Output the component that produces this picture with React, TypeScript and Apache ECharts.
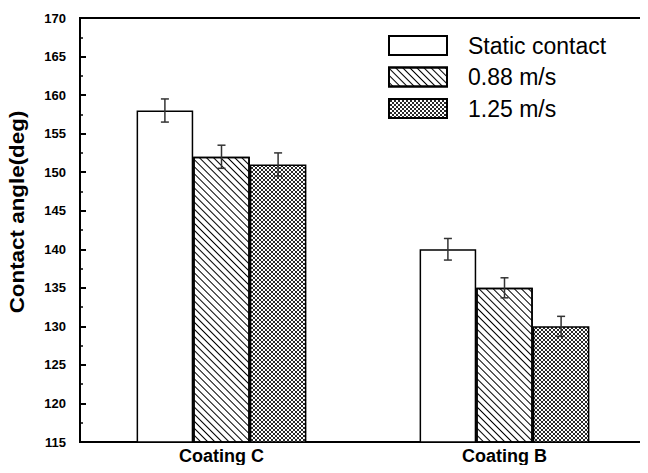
import React, { useEffect, useRef } from "react";
import * as echarts from "echarts";

const categories = ["Coating C", "Coating B"];
const seriesNames = ["Static contact", "0.88 m/s", "1.25 m/s"];
const staticValues = [158, 140];
const v088Values = [152, 135];
const v125Values = [151, 130];
const staticErr = [1.5, 1.4];
const v088Err = [1.5, 1.3];
const v125Err = [1.5, 1.3];
const yTicks = { min: 115, max: 170, interval: 5 };
const yName = "Contact angle(deg)";

const CAT_GAP = 0.4;

function crossHatch(): any {
  const p = 4;
  const cv = document.createElement("canvas");
  cv.width = p;
  cv.height = p;
  const ctx = cv.getContext("2d")!;
  ctx.fillStyle = "#fff";
  ctx.fillRect(0, 0, p, p);
  ctx.strokeStyle = "#111";
  ctx.lineWidth = 0.9;
  for (let k = -1; k <= 1; k++) {
    ctx.beginPath();
    ctx.moveTo(k * p, 0);
    ctx.lineTo(k * p + p, p);
    ctx.stroke();
    ctx.beginPath();
    ctx.moveTo(k * p + p, 0);
    ctx.lineTo(k * p, p);
    ctx.stroke();
  }
  return { image: cv, repeat: "repeat", imageWidth: p, imageHeight: p };
}

export default function App() {
  const ref = useRef<HTMLDivElement>(null);
  useEffect(() => {
    if (!ref.current) return;
    const chart = echarts.init(ref.current, null, { renderer: "svg" });
    const values = [staticValues, v088Values, v125Values];
    const errs = [staticErr, v088Err, v125Err];
    const errData: number[][] = [];
    values.forEach((arr, s) =>
      arr.forEach((v, c) => errData.push([c, v, errs[s][c], s]))
    );
    const styles: any[] = [
      { color: "#fff" },
      {
        color: "#fff",
        decal: {
          symbol: "rect",
          symbolSize: 1,
          dashArrayX: [1, 0],
          dashArrayY: [1, 3.4],
          rotation: Math.PI / 4,
          color: "#000",
        },
      },
      { color: crossHatch() },
    ];
    const barSeries = values.map((arr, s) => ({
      name: seriesNames[s],
      type: "bar",
      data: arr,
      barGap: "0%",
      barCategoryGap: CAT_GAP * 100 + "%",
      itemStyle: {
        borderColor: "#000",
        borderWidth: 1.5,
        ...styles[s],
      },
      emphasis: { disabled: true },
    }));
    chart.setOption({
      animation: false,
      grid: {
        left: 80,
        right: 2,
        top: 18,
        bottom: 31,
        show: true,
        borderColor: "#000",
        borderWidth: 2,
        backgroundColor: "transparent",
      },
      graphic: [
        {
          type: "text",
          x: 17,
          y: 212,
          rotation: Math.PI / 2,
          scaleX: 1.12,
          style: {
            text: yName,
            font: "bold 20px Arial, 'Liberation Sans', sans-serif",
            fill: "#000",
            align: "center",
            verticalAlign: "middle",
          },
        },
      ],
      legend: {
        orient: "vertical",
        left: 383,
        top: 29,
        itemWidth: 58,
        itemHeight: 19,
        itemGap: 8.5,
        icon: "rect",
        data: seriesNames,
        textStyle: {
          fontFamily: "Arial, 'Liberation Sans', sans-serif",
          fontSize: 23,
          color: "#000",
          padding: [0, 0, 0, 16],
          lineHeight: 22,
        },
      },
      xAxis: {
        type: "category",
        data: categories,
        axisLine: { lineStyle: { color: "#000", width: 2 } },
        axisTick: { show: false },
        axisLabel: {
          color: "#000",
          fontWeight: "bold",
          fontSize: 18,
          fontFamily: "Arial, 'Liberation Sans', sans-serif",
          margin: 5,
        },
      },
      yAxis: {
        type: "value",
        min: yTicks.min,
        max: yTicks.max,
        interval: yTicks.interval,
        axisLine: { show: true, lineStyle: { color: "#000", width: 2 } },
        axisTick: { show: true, inside: true, length: 6, lineStyle: { color: "#000", width: 2 } },
        minorTick: { show: true, splitNumber: 2, length: 3, lineStyle: { color: "#000", width: 1.5 } },
        splitLine: { show: false },
        axisLabel: {
          color: "#000",
          fontWeight: "bold",
          fontSize: 13,
          fontFamily: "Arial, 'Liberation Sans', sans-serif",
          margin: 14,
        },
      },
      series: [
        ...barSeries,
        {
          type: "custom",
          z: 10,
          silent: true,
          data: errData,
          encode: { x: 0, y: 1 },
          renderItem: (params: any, api: any) => {
            const c = api.value(0);
            const v = api.value(1);
            const e = api.value(2);
            const s = api.value(3);
            const band = api.size([1, 0])[0];
            const bw = (band * (1 - CAT_GAP)) / 3;
            const center = api.coord([c, v]);
            const x = center[0] + (s - 1) * bw;
            const yTop = api.coord([c, v + e])[1];
            const yBot = api.coord([c, v - e])[1];
            const cap = 4;
            const style = { stroke: "#333", lineWidth: 1.5, fill: "none" };
            return {
              type: "group",
              children: [
                { type: "line", shape: { x1: x, y1: yTop, x2: x, y2: yBot }, style },
                { type: "line", shape: { x1: x - cap, y1: yTop, x2: x + cap, y2: yTop }, style },
                { type: "line", shape: { x1: x - cap, y1: yBot, x2: x + cap, y2: yBot }, style },
              ],
            };
          },
        },
      ],
    });
    return () => chart.dispose();
  }, []);
  return <div ref={ref} style={{ width: 648, height: 473, margin: -8, background: "#fff" }} />;
}
